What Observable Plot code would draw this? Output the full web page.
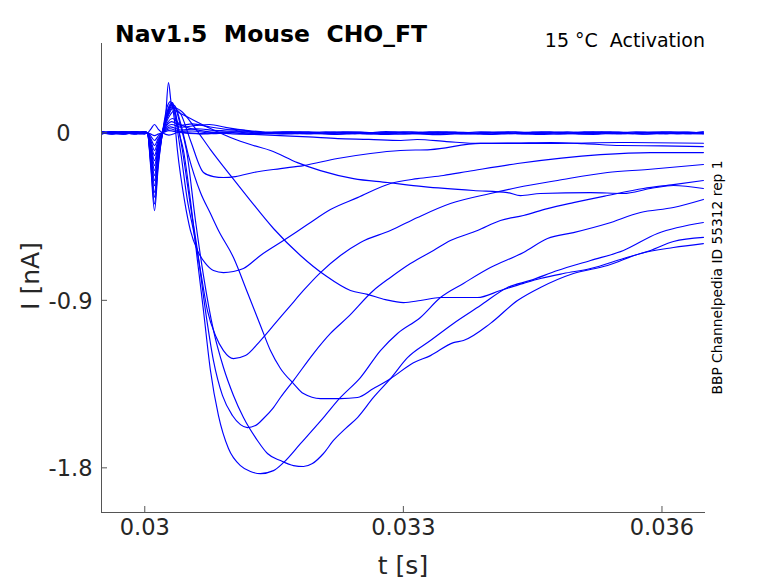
<!DOCTYPE html>
<html>
<head>
<meta charset="utf-8">
<script src="https://cdn.jsdelivr.net/npm/d3@7"></script>
<script src="https://cdn.jsdelivr.net/npm/@observablehq/plot@0.6"></script>
<style>
html, body { margin: 0; padding: 0; background: #fff; }
#chart svg text.pre { white-space: pre; }
</style>
</head>
<body>
<div id="chart"></div>
<script>
// ---- labels & ticks ----
const titleText = "Nav1.5  Mouse  CHO_FT";
const conditionText = "15 °C  Activation";
const sideNote = "BBP Channelpedia ID 55312 rep 1";
const xLabel = "t [s]";
const yLabel = "I [nA]";
const xTicksMs = [30, 33, 36];          // time ticks in ms (shown in s)
const yTicks = [0, -0.9, -1.8];         // current ticks in nA
const xDomainMs = [29.498, 36.505];
const yDomain = [-2.04, 0.48];

// ---- traces: [time (ms), current (nA)] ----
const traceZ1 = [[29.50,0.005],[29.62,-0.004],[29.75,0.006],[29.88,-0.005],[30.00,0.002],[30.03,0],[30.07,0.02],[30.113,0.045],[30.155,0.02],[30.205,0],
 [30.28,-0.012],[30.40,0.003],[30.70,-0.006],[31.00,0.006],[31.30,-0.004],[31.60,0.005],[31.90,-0.006],[32.20,0.004],[32.50,-0.005],[32.80,0.007],[33.10,-0.004],[33.40,0.005],[33.70,-0.006],[34.00,0.004],[34.30,-0.005],[34.60,0.006],[34.90,-0.004],[35.20,0.005],[35.50,-0.006],[35.80,0.004],[36.10,-0.005],[36.48,0.004]];
const traceZ2 = [[29.50,-0.003],[29.62,0.006],[29.75,-0.005],[29.88,0.004],[30.00,-0.003],[30.03,0],[30.07,-0.007],[30.113,-0.015],[30.155,-0.007],[30.205,0],
 [30.28,0.012],[30.40,0.002],[30.60,-0.005],[30.90,0.005],[31.20,-0.006],[31.50,0.004],[31.80,-0.004],[32.10,0.006],[32.40,-0.005],[32.70,0.003],[33.00,-0.006],[33.30,0.005],[33.60,-0.003],[33.90,0.006],[34.20,-0.005],[34.50,0.004],[34.80,-0.006],[35.10,0.005],[35.40,-0.004],[35.70,0.006],[36.00,-0.005],[36.30,0.004],[36.48,-0.004]];
const traceZ3 = [[29.50,0.002],[29.62,-0.007],[29.75,0.004],[29.88,0.006],[30.00,-0.004],[30.03,0],[30.07,-0.018],[30.113,-0.041],[30.155,-0.018],[30.205,0],
 [30.29,0.022],[30.40,0.008],[30.55,0.010],[30.80,-0.004],[31.10,0.007],[31.40,-0.005],[31.70,0.005],[32.00,-0.004],[32.30,0.006],[32.60,-0.006],[32.90,0.004],[33.20,-0.003],[33.50,0.006],[33.80,-0.005],[34.10,0.004],[34.40,-0.006],[34.70,0.005],[35.00,-0.003],[35.30,0.006],[35.60,-0.005],[35.90,0.004],[36.20,-0.004],[36.48,0.005]];
const traceZ4 = [[29.50,-0.006],[29.62,0.003],[29.75,-0.002],[29.88,0.007],[30.00,0.001],[30.03,0],[30.07,-0.031],[30.113,-0.068],[30.155,-0.031],[30.205,0],
 [30.30,0.032],[30.42,0.015],[30.60,0.022],[30.85,0.012],[31.05,0.018],[31.30,0.003],[31.60,-0.004],[31.90,0.005],[32.20,-0.006],[32.50,0.004],[32.80,-0.004],[33.10,0.006],[33.40,-0.005],[33.70,0.003],[34.00,-0.006],[34.30,0.005],[34.60,-0.003],[34.90,0.006],[35.20,-0.005],[35.50,0.004],[35.80,-0.006],[36.10,0.005],[36.48,-0.002]];
const traceZ5 = [[29.50,0.007],[29.62,-0.002],[29.75,-0.006],[29.88,0.003],[30.00,0.005],[30.03,0],[30.07,-0.043],[30.113,-0.095],[30.155,-0.043],[30.205,0],
 [30.31,0.045],[30.42,0.030],[30.60,0.040],[30.75,0.045],[30.95,0.028],[31.20,0.012],[31.50,0.002],[31.80,0.006],[32.10,-0.005],[32.40,0.005],[32.70,-0.003],[33.00,0.006],[33.30,-0.006],[33.60,0.004],[33.90,-0.004],[34.20,0.006],[34.50,-0.005],[34.80,0.003],[35.10,-0.006],[35.40,0.005],[35.70,-0.003],[36.00,0.006],[36.30,-0.005],[36.48,0.003]];
const traceZ6 = [[29.50,-0.004],[29.62,0.005],[29.75,0.002],[29.88,-0.006],[30.00,0.004],[30.03,0],[30.07,-0.055],[30.113,-0.122],[30.155,-0.055],[30.205,0],
 [30.31,0.060],[30.42,0.040],[30.55,0.048],[30.75,0.032],[31.00,0.015],[31.30,0.004],[31.60,-0.006],[31.90,-0.002],[32.20,-0.008],[32.50,-0.003],[32.80,-0.009],[33.10,-0.004],[33.40,-0.010],[33.70,-0.005],[34.00,-0.008],[34.30,-0.003],[34.60,-0.009],[34.90,-0.004],[35.20,-0.008],[35.50,-0.002],[35.80,-0.007],[36.10,-0.003],[36.48,-0.006]];
const traceK = [[29.50,0.003],[29.62,0.006],[29.75,-0.004],[29.88,-0.002],[30.00,0.006],[30.03,0],[30.07,-0.067],[30.113,-0.149],[30.155,-0.067],[30.205,0],
 [30.32,0.077],[30.41,0.045],[30.65,0.012],[30.99,-0.004],[31.25,-0.008],[31.57,-0.015],[31.90,-0.022],[32.24,-0.031],[32.60,-0.035],[32.97,-0.041],[33.16,-0.036],[33.50,-0.047],[33.89,-0.057],[34.30,-0.055],[34.71,-0.052],[35.10,-0.058],[35.52,-0.068],[36.00,-0.070],[36.48,-0.074]];
const traceI = [[29.50,-0.005],[29.62,0.002],[29.75,0.006],[29.88,-0.003],[30.00,-0.005],[30.03,0],[30.07,-0.079],[30.113,-0.176],[30.155,-0.079],[30.205,0],
 [30.30,0.100],[30.345,0.120],[30.414,0.104],[30.530,0.077],[30.762,0.023],[30.994,-0.025],[31.261,-0.068],[31.458,-0.095],[31.771,-0.160],[32.038,-0.203],[32.421,-0.246],[32.816,-0.267],[33.233,-0.289],[33.813,-0.310],[34.208,-0.321],[34.358,-0.337],[34.590,-0.326],[35.171,-0.321],[35.553,-0.326],[35.867,-0.299],[36.133,-0.283],[36.481,-0.299]];
const traceF = [[29.50,0.006],[29.62,-0.003],[29.75,0.003],[29.88,0.005],[30.00,-0.002],[30.03,0],[30.07,-0.091],[30.113,-0.203],[30.155,-0.091],[30.205,0],
 [30.29,0.110],[30.333,0.136],[30.414,0.120],[30.588,0.023],[30.762,-0.090],[30.994,-0.229],[31.226,-0.364],[31.493,-0.514],[31.806,-0.659],[32.096,-0.767],[32.386,-0.847],[32.584,-0.868],[32.792,-0.896],[33.001,-0.912],[33.198,-0.901],[33.430,-0.885],[33.860,-0.885],[34.126,-0.847],[34.393,-0.809],[34.590,-0.783],[34.857,-0.756],[35.171,-0.729],[35.553,-0.675],[35.867,-0.632],[36.133,-0.584],[36.481,-0.562]];
const traceD = [[29.50,-0.002],[29.62,-0.006],[29.75,0.005],[29.88,0.002],[30.00,0.006],[30.03,0],[30.07,-0.104],[30.113,-0.230],[30.155,-0.104],[30.205,0],
 [30.29,0.120],[30.345,0.147],[30.414,0.055],[30.507,-0.122],[30.646,-0.321],[30.762,-0.434],[30.855,-0.525],[31.029,-0.670],[31.191,-0.858],[31.342,-1.035],[31.458,-1.170],[31.574,-1.266],[31.725,-1.347],[31.841,-1.401],[32.038,-1.428],[32.270,-1.428],[32.468,-1.422],[32.653,-1.374],[32.850,-1.321],[33.117,-1.235],[33.314,-1.197],[33.581,-1.127],[33.697,-1.116],[34.010,-1.024],[34.324,-0.901],[34.590,-0.831],[34.973,-0.756],[35.368,-0.713],[35.751,-0.648],[36.133,-0.616],[36.481,-0.595]];
const traceB = [[29.50,0.004],[29.62,0.001],[29.75,-0.006],[29.88,0.004],[30.00,-0.001],[30.03,0],[30.07,-0.116],[30.113,-0.257],[30.155,-0.116],[30.205,0],
 [30.29,0.130],[30.333,0.152],[30.414,0.039],[30.484,-0.095],[30.588,-0.471],[30.681,-0.767],[30.797,-1.062],[30.913,-1.261],[31.029,-1.411],[31.145,-1.530],[31.307,-1.653],[31.423,-1.723],[31.574,-1.761],[31.725,-1.788],[31.841,-1.793],[31.945,-1.777],[32.073,-1.723],[32.189,-1.653],[32.328,-1.589],[32.468,-1.530],[32.653,-1.422],[32.850,-1.321],[33.048,-1.208],[33.314,-1.116],[33.581,-1.024],[33.894,-0.928],[34.208,-0.831],[34.475,-0.793],[34.788,-0.740],[35.171,-0.686],[35.553,-0.632],[35.948,-0.541],[36.481,-0.482]];
const traceA = [[29.50,-0.006],[29.62,0.004],[29.75,0.001],[29.88,-0.005],[30.00,0.004],[30.03,0],[30.07,-0.128],[30.113,-0.284],[30.155,-0.128],[30.205,0],
 [30.28,0.130],[30.321,0.163],[30.391,0.012],[30.449,-0.095],[30.530,-0.364],[30.611,-0.686],[30.681,-0.955],[30.762,-1.277],[30.855,-1.519],[30.971,-1.696],[31.110,-1.788],[31.226,-1.820],[31.342,-1.831],[31.493,-1.815],[31.609,-1.772],[31.806,-1.670],[32.073,-1.530],[32.270,-1.422],[32.502,-1.315],[32.734,-1.170],[32.932,-1.078],[33.198,-0.992],[33.430,-0.885],[33.697,-0.809],[34.010,-0.724],[34.393,-0.643],[34.672,-0.568],[34.973,-0.536],[35.368,-0.487],[35.751,-0.428],[36.133,-0.401],[36.481,-0.358]];
const traceC = [[29.50,0.002],[29.62,-0.005],[29.75,-0.003],[29.88,0.006],[30.00,-0.004],[30.03,0],[30.07,-0.144],[30.113,-0.320],[30.155,-0.144],[30.205,0],
 [30.28,0.130],[30.321,0.157],[30.379,0.055],[30.437,-0.095],[30.530,-0.391],[30.611,-0.632],[30.704,-0.955],[30.797,-1.224],[30.901,-1.411],[31.017,-1.519],[31.110,-1.568],[31.191,-1.584],[31.284,-1.573],[31.377,-1.535],[31.493,-1.476],[31.574,-1.422],[31.725,-1.331],[31.957,-1.186],[32.154,-1.078],[32.352,-0.992],[32.653,-0.847],[32.850,-0.777],[33.082,-0.702],[33.349,-0.632],[33.546,-0.579],[33.860,-0.525],[34.126,-0.471],[34.393,-0.444],[34.672,-0.407],[34.973,-0.375],[35.368,-0.337],[35.785,-0.299],[36.133,-0.278],[36.481,-0.256]];
const traceE = [[29.50,-0.004],[29.62,0.007],[29.75,-0.001],[29.88,-0.006],[30.00,0.005],[30.03,0],[30.07,-0.156],[30.113,-0.346],[30.155,-0.156],[30.205,0],
 [30.27,0.130],[30.310,0.163],[30.356,0.077],[30.414,-0.095],[30.495,-0.364],[30.565,-0.525],[30.646,-0.740],[30.727,-0.955],[30.820,-1.089],[30.913,-1.170],[31.029,-1.213],[31.168,-1.197],[31.342,-1.116],[31.493,-1.035],[31.690,-0.928],[31.841,-0.847],[32.038,-0.751],[32.270,-0.659],[32.502,-0.589],[32.850,-0.525],[33.164,-0.455],[33.546,-0.380],[34.010,-0.326],[34.324,-0.294],[34.788,-0.256],[35.368,-0.213],[35.832,-0.197],[36.481,-0.170]];
const traceG = [[29.50,0.005],[29.62,-0.002],[29.75,-0.007],[29.88,0.001],[30.00,0.003],[30.03,0],[30.07,-0.172],[30.113,-0.382],[30.155,-0.172],[30.205,0],
 [30.26,0.140],[30.298,0.168],[30.345,0.066],[30.379,-0.095],[30.461,-0.364],[30.530,-0.525],[30.611,-0.632],[30.704,-0.702],[30.797,-0.740],[30.913,-0.751],[31.029,-0.745],[31.145,-0.729],[31.342,-0.659],[31.609,-0.579],[31.887,-0.493],[32.154,-0.412],[32.468,-0.348],[32.850,-0.272],[33.164,-0.246],[33.465,-0.229],[33.744,-0.208],[34.324,-0.165],[35.287,-0.117],[35.867,-0.106],[36.481,-0.106]];
const traceH = [[29.50,-0.001],[29.62,0.004],[29.75,0.006],[29.88,-0.004],[30.00,-0.006],[30.03,0],[30.07,-0.188],[30.113,-0.418],[30.155,-0.188],[30.205,0],
 [30.24,0.080],[30.275,0.270],[30.310,0.152],[30.356,0.131],[30.414,0.104],[30.530,-0.041],[30.681,-0.213],[30.797,-0.235],[30.913,-0.240],[31.052,-0.235],[31.261,-0.213],[31.574,-0.192],[31.841,-0.176],[32.236,-0.138],[32.618,-0.111],[32.966,-0.095],[33.314,-0.090],[33.894,-0.057],[34.706,-0.057],[35.519,-0.052],[36.481,-0.056]];

const traces = [
  ["Z1", traceZ1], ["Z2", traceZ2], ["Z3", traceZ3], ["Z4", traceZ4], ["Z5", traceZ5], ["Z6", traceZ6],
  ["K", traceK], ["I", traceI], ["F", traceF], ["D", traceD], ["B", traceB], ["A", traceA],
  ["C", traceC], ["E", traceE], ["G", traceG], ["H", traceH]
];
const rows = traces.flatMap(([id, pts]) => pts.map(([t, i]) => ({id, t, i})));

const axisColor = "#555555";
const textColor = "#262626";
const fontFamily = "DejaVu Sans";

const W = 778, H = 583, mL = 101, mR = 73, mT = 43, mB = 71;
const fmtY = d => (d === 0 ? "0" : String(d));

const chart = Plot.plot({
  width: W, height: H,
  marginLeft: mL, marginRight: mR, marginTop: mT, marginBottom: mB,
  style: {fontFamily, background: "#ffffff", color: textColor, overflow: "visible"},
  x: {domain: xDomainMs, axis: null},
  y: {domain: yDomain, axis: null},
  marks: [
    Plot.line(rows, {x: "t", y: "i", z: "id", stroke: "#0000ff", strokeWidth: 1.15, curve: "monotone-x"}),
    Plot.ruleY([yDomain[0]], {stroke: axisColor, strokeWidth: 1}),
    Plot.ruleX([xDomainMs[0]], {stroke: axisColor, strokeWidth: 1}),
    Plot.tickX(xTicksMs, {x: d => d, insetTop: (H - mT - mB) - 6, stroke: axisColor}),
    Plot.tickY(yTicks, {y: d => d, insetRight: (W - mL - mR) - 6, stroke: axisColor}),
    Plot.text(xTicksMs, {x: d => d, frameAnchor: "bottom", dy: 22.5, text: d => String(d / 1000), fontSize: 22.5, fill: textColor}),
    Plot.text(yTicks.filter(d => d !== 0), {y: d => d, frameAnchor: "left", textAnchor: "end", dx: -9, dy: 1, text: fmtY, fontSize: 22.5, fill: textColor}),
    Plot.text(yTicks.filter(d => d === 0), {y: d => d, frameAnchor: "left", textAnchor: "end", dx: -31, dy: 1, text: fmtY, fontSize: 22.5, fill: textColor})
  ]
});

document.getElementById("chart").appendChild(chart);

const svg = d3.select(chart);
svg.append("text").attr("class", "pre")
  .attr("x", 115).attr("y", 42).attr("text-anchor", "start")
  .attr("font-family", fontFamily).attr("font-size", 23.5).attr("font-weight", "bold")
  .attr("fill", "#000").text(titleText);
svg.append("text").attr("class", "pre")
  .attr("x", 705).attr("y", 47).attr("text-anchor", "end")
  .attr("font-family", fontFamily).attr("font-size", 19)
  .attr("fill", "#000").text(conditionText);
svg.append("text")
  .attr("transform", "translate(722,277.5) rotate(-90)").attr("text-anchor", "middle")
  .attr("font-family", fontFamily).attr("font-size", 13.8)
  .attr("fill", "#000").text(sideNote);
svg.append("text")
  .attr("x", 403).attr("y", 574).attr("text-anchor", "middle")
  .attr("font-family", fontFamily).attr("font-size", 25)
  .attr("fill", textColor).text(xLabel);
svg.append("text")
  .attr("transform", "translate(39,276) rotate(-90)").attr("text-anchor", "middle")
  .attr("font-family", fontFamily).attr("font-size", 25)
  .attr("fill", textColor).text(yLabel);
</script>
</body>
</html>
